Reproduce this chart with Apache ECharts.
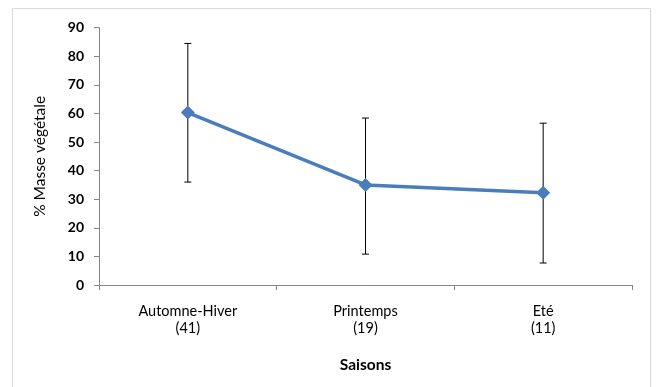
<!DOCTYPE html>
<html>
<head>
<meta charset="utf-8">
<script src="https://cdn.jsdelivr.net/npm/echarts@6/dist/echarts.min.js"></script>
<style>
  html, body { margin: 0; padding: 0; background: #fff; }
  #chart { width: 656px; height: 387px; }
</style>
</head>
<body>
<div id="chart"></div>
<script>
// saisons (effectif entre parenthèses)
var categories = ["Automne-Hiver\n(41)", "Printemps\n(19)", "Eté\n(11)"];
var masseVeg = [60.3, 35.0, 32.3];
var errHigh = [84.5, 58.4, 56.6];
var errLow = [36.0, 10.8, 7.7];
var yTicks = [0, 10, 20, 30, 40, 50, 60, 70, 80, 90];

var axisGray = "#868686";
var lineBlue = "#4A7EBB";

var errData = categories.map(function (c, i) {
  return [i, errLow[i], errHigh[i]];
});

var myChart = echarts.init(document.getElementById("chart"));
var option = {
  animation: false,
  backgroundColor: "#fff",
  graphic: [
    {
      type: "rect",
      shape: { x: 12.5, y: 8.5, width: 638, height: 380 },
      style: { fill: "none", stroke: "#d9d9d9", lineWidth: 1 },
      silent: true
    }
  ],
  grid: { left: 99, right: 24, top: 27.7, bottom: 102 },
  xAxis: {
    type: "category",
    data: categories,
    boundaryGap: true,
    name: "Saisons",
    nameLocation: "middle",
    nameGap: 72,
    nameTextStyle: { fontFamily: "Lato", fontSize: 15.5, fontWeight: "bold", color: "#000" },
    axisLine: { lineStyle: { color: axisGray, width: 1 } },
    axisTick: { show: true, alignWithLabel: false, length: 5, lineStyle: { color: axisGray } },
    axisLabel: { fontFamily: "Lato", fontSize: 14.5, color: "#000", margin: 18, lineHeight: 17 }
  },
  yAxis: {
    type: "value",
    min: yTicks[0],
    max: yTicks[yTicks.length - 1],
    interval: 10,
    name: "% Masse végétale",
    nameLocation: "middle",
    nameGap: 51,
    nameRotate: 90,
    nameTextStyle: { fontFamily: "Lato", fontSize: 15.5, color: "#000" },
    splitLine: { show: false },
    axisLine: { show: true, lineStyle: { color: axisGray, width: 1 } },
    axisTick: { show: true, length: 5, lineStyle: { color: axisGray } },
    axisLabel: { fontFamily: "Lato", fontSize: 14, fontWeight: "bold", color: "#000", margin: 15 }
  },
  series: [
    {
      type: "custom",
      name: "erreur",
      z: 1,
      data: errData,
      renderItem: function (params, api) {
        var x = api.value(0);
        var lo = api.coord([x, api.value(1)]);
        var hi = api.coord([x, api.value(2)]);
        var cap = 3.5;
        var st = { stroke: "#000", lineWidth: 1 };
        return {
          type: "group",
          children: [
            { type: "line", shape: { x1: hi[0], y1: hi[1], x2: lo[0], y2: lo[1] }, style: st },
            { type: "line", shape: { x1: hi[0] - cap, y1: hi[1], x2: hi[0] + cap, y2: hi[1] }, style: st },
            { type: "line", shape: { x1: lo[0] - cap, y1: lo[1], x2: lo[0] + cap, y2: lo[1] }, style: st }
          ]
        };
      }
    },
    {
      type: "line",
      name: "% Masse végétale",
      z: 3,
      data: masseVeg,
      symbol: "diamond",
      symbolSize: 14,
      lineStyle: { color: lineBlue, width: 3.5 },
      itemStyle: { color: lineBlue }
    }
  ]
};
myChart.setOption(option);
</script>
</body>
</html>
